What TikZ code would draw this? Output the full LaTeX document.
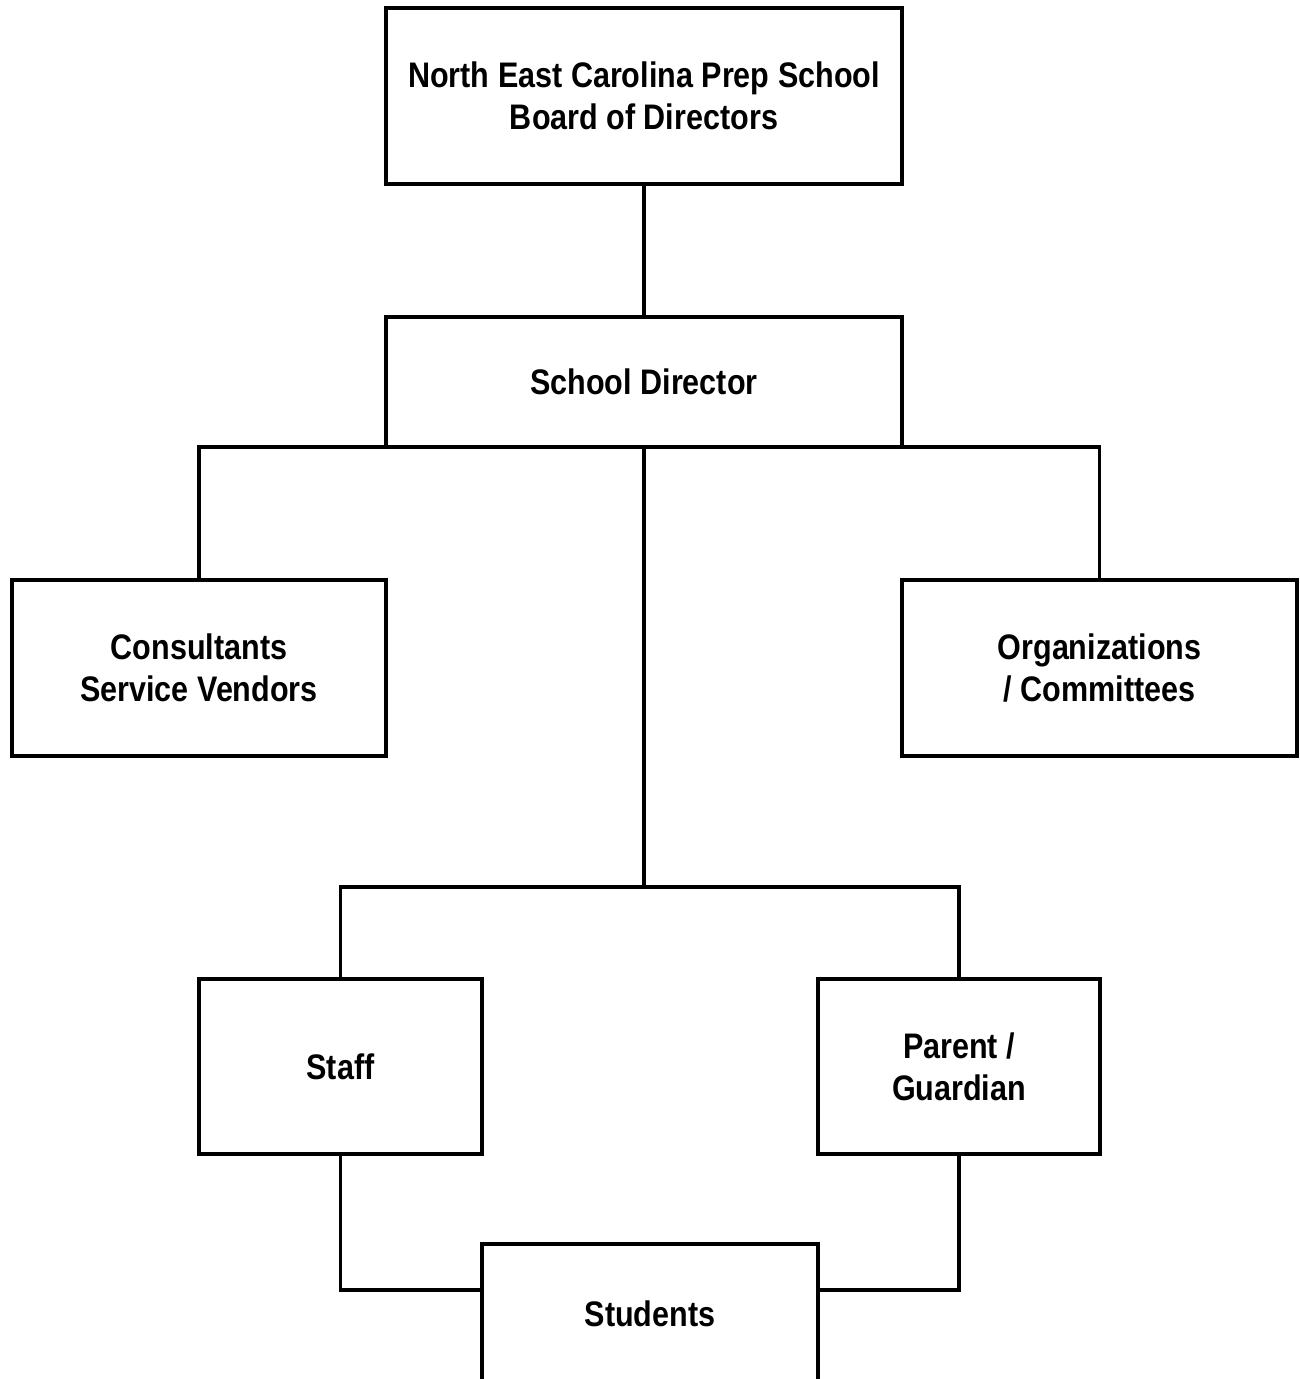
\documentclass[tikz,border=0pt]{standalone}
\usepackage{fontspec}
\setmainfont{Liberation Sans}[FakeStretch=0.86]

\begin{document}
\begin{tikzpicture} [
                x=1pt, y=-1pt,
                % every box of the chart
                unit/.style={draw,line width=3.6pt,fill=white,inner sep=0pt,outer sep=0pt,
                             align=center,font={\fontsize{35.5}{42}\selectfont\bfseries}},
                link/.style = {draw,line width=3.6pt,-}
            ]
            % the page, the students box runs over its lower edge
            \clip (0,0) rectangle (1299,1379);
            % First we draw the boxes
            \foreach \pos/\name/\boxw/\boxh/\txt in {
                {(644,96)/board/516/176/{North East Carolina Prep School\\Board of Directors}},
                {(644,382)/director/516/130/{School Director}},
                {(199,668)/consult/374/176/{Consultants\\Service Vendors}},
                {(1099.5,668)/orgs/395/176/{Organizations\\{/} Committees}},
                {(340.5,1066.5)/staff/283/175/{Staff}},
                {(959,1066.5)/parent/282/175/{Parent {/}\\Guardian}}}
                \node[unit,minimum width=\boxw pt,minimum height=\boxh pt] (\name) at \pos {\txt};
            \node[unit,minimum width=336pt,minimum height=140pt] (students) at (650,1314) {Students};
            % split point of the line down to staff and parents
            \coordinate (split) at (644,887);
            % Connect the boxes
            \path[link] (board) -- (director);
            \path[link] (director.south west) -| (consult.north);
            \path[link] (director.south east) -| (orgs.north);
            \path[link] (director.south) -- (split);
            \foreach \dest in {staff,parent}
                \path[link] (split) -| (\dest.north);
            \path[link] (staff.south) |- ([yshift=24pt]students.west);
            \path[link] (parent.south) |- ([yshift=24pt]students.east);
        \end{tikzpicture}
\end{document}
